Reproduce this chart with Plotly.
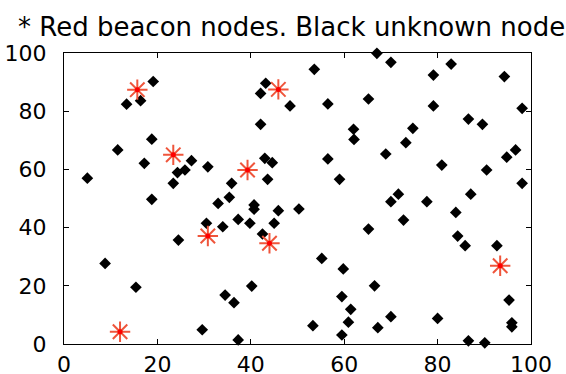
import plotly.graph_objects as go

# Beacon nodes (known positions)
beacon_x = [15.7, 23.4, 45.9, 39.3, 30.8, 44.0, 12.0, 93.4]
beacon_y = [87.4, 65.0, 87.5, 59.8, 37.1, 34.6, 4.2, 26.9]

# Unknown nodes
unknown_x = [19.1, 13.4, 16.4, 18.8, 11.5, 17.2, 27.3, 30.8, 25.9, 24.3,
             23.4, 5.0, 67.0, 53.6, 43.2, 42.1, 48.4, 56.5, 65.2, 42.1,
             62.0, 62.1, 43.0, 44.6, 56.5, 35.9, 43.6, 59.0, 70.0, 79.1,
             82.9, 94.3, 79.1, 98.1, 86.6, 89.6, 74.7, 73.2, 68.9, 80.9,
             96.7, 94.8, 90.5, 98.1, 18.8, 30.5, 24.5, 8.8, 15.4, 29.6,
             35.4, 33.0, 40.7, 40.7, 45.9, 50.3, 34.0, 37.3, 39.8, 45.0,
             42.5, 65.2, 55.2, 59.8, 66.5, 40.2, 34.5, 36.4, 59.5, 61.4,
             60.9, 67.2, 53.3, 59.5, 37.3, 71.6, 70.0, 77.7, 72.7, 83.9,
             87.1, 84.3, 85.9, 92.7, 70.0, 80.0, 95.3, 95.9, 95.9, 86.6,
             90.1]
unknown_y = [90.2, 82.4, 83.6, 70.4, 66.7, 62.1, 63.0, 60.9, 59.8, 58.9,
             55.2, 57.0, 99.9, 94.4, 89.6, 86.1, 81.8, 82.5, 84.2, 75.5,
             73.8, 70.3, 63.8, 62.3, 63.6, 55.2, 56.6, 56.6, 96.8, 92.4,
             96.2, 91.9, 81.8, 81.0, 77.3, 75.5, 74.1, 69.2, 65.3, 61.5,
             66.7, 64.2, 59.8, 55.2, 49.7, 41.5, 35.7, 27.7, 19.5, 4.9,
             50.4, 48.3, 47.8, 46.3, 45.8, 46.4, 40.3, 42.8, 41.5, 41.5,
             37.8, 39.5, 29.4, 25.8, 20.0, 19.9, 16.8, 14.2, 16.3, 11.9,
             7.5, 5.6, 6.3, 3.1, 1.4, 51.5, 48.9, 48.9, 42.6, 45.2,
             51.5, 37.1, 33.8, 33.8, 9.4, 8.8, 15.1, 7.3, 5.9, 1.1,
             0.4]

tick_vals = [0, 20, 40, 60, 80, 100]
title_text = "* Red beacon nodes. Black unknown nodes"

fig = go.Figure()
fig.add_trace(go.Scatter(
    x=unknown_x, y=unknown_y, mode="markers",
    marker=dict(symbol="diamond", size=9, color="black",
                line=dict(width=0)),
    cliponaxis=False, showlegend=False,
))
# asterisk outline plus a small solid core for each beacon
fig.add_trace(go.Scatter(
    x=beacon_x, y=beacon_y, mode="markers",
    marker=dict(symbol="asterisk-open", size=17,
                line=dict(width=2, color="#ff0000")),
    cliponaxis=False, showlegend=False,
))
fig.add_trace(go.Scatter(
    x=beacon_x, y=beacon_y, mode="markers",
    marker=dict(symbol="circle", size=5, color="#ff0000",
                line=dict(width=0)),
    cliponaxis=False, showlegend=False,
))

axis_common = dict(
    range=[0, 100], tickvals=tick_vals, ticks="inside", ticklen=5,
    tickwidth=1, tickcolor="black", showline=True, linecolor="black",
    linewidth=1.3, mirror="ticks", showgrid=False, zeroline=False,
    automargin=False,
    tickfont=dict(family="DejaVu Sans", size=22, color="black"),
)

fig.update_layout(
    width=566, height=374,
    margin=dict(l=64, r=35, t=53, b=30),
    paper_bgcolor="white", plot_bgcolor="white",
    title=dict(text=title_text, xref="container", x=18 / 566,
               xanchor="left", yref="container", y=1 - 27 / 374,
               yanchor="middle",
               font=dict(family="DejaVu Sans", size=26, color="black")),
    xaxis=dict(axis_common, ticklabelstandoff=0),
    yaxis=dict(axis_common, ticklabelstandoff=12),
)

fig.write_html("out.html")
